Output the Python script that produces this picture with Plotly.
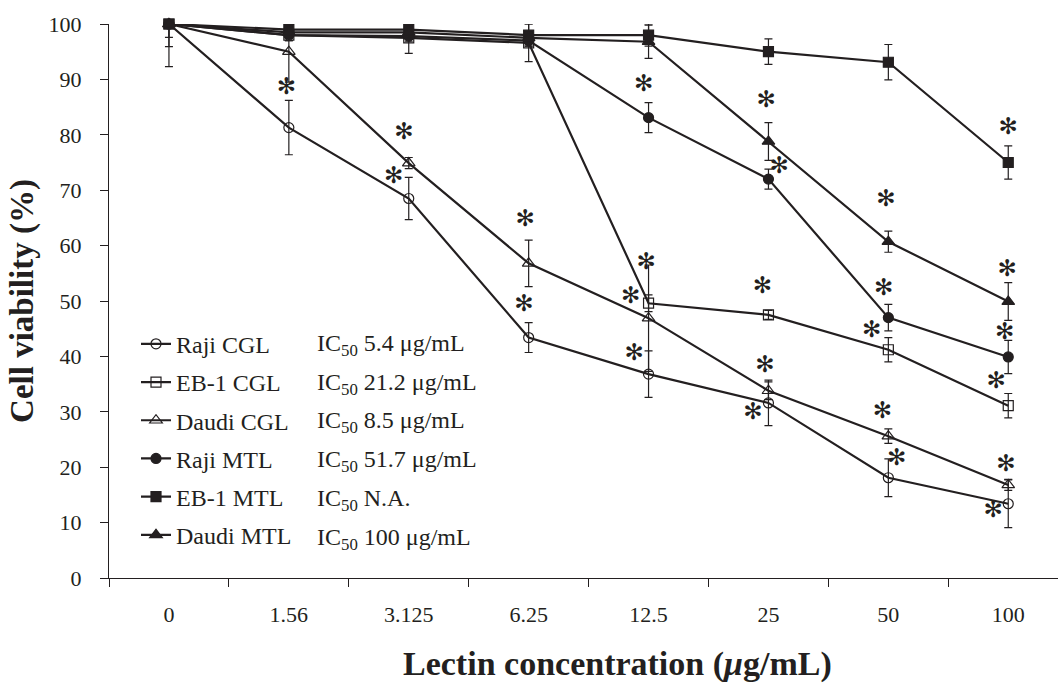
import plotly.graph_objects as go

categories = ["0", "1.56", "3.125", "6.25", "12.5", "25", "50", "100"]

series_names = ["Raji CGL", "EB-1 CGL", "Daudi CGL", "Raji MTL", "EB-1 MTL", "Daudi MTL"]
ic50_labels = ["IC<sub>50</sub> 5.4 μg/mL", "IC<sub>50</sub> 21.2 μg/mL", "IC<sub>50</sub> 8.5 μg/mL",
               "IC<sub>50</sub> 51.7 μg/mL", "IC<sub>50</sub> N.A.", "IC<sub>50</sub> 100 μg/mL"]

raji_cgl = [100, 81.3, 68.5, 43.4, 36.8, 31.6, 18.1, 13.4]
raji_cgl_err = [7.7, 4.9, 3.8, 2.7, 4.2, 4.1, 3.4, 4.3]
eb1_cgl = [100, 98.0, 97.5, 96.6, 49.6, 47.5, 41.2, 31.1]
eb1_cgl_err = [4.1, 1.0, 2.8, 3.4, 1.5, 0.8, 2.2, 2.2]
daudi_cgl = [100, 95.0, 74.9, 56.8, 46.9, 33.8, 25.6, 16.8]
daudi_cgl_err = [2.4, 5.5, 1.0, 4.2, 9.6, 1.6, 1.3, 1.0]
raji_mtl = [100, 98.0, 97.8, 97.0, 83.1, 72.0, 47.0, 39.9]
raji_mtl_err = [0.5, 1.0, 1.0, 1.0, 2.7, 1.8, 2.4, 3.0]
eb1_mtl = [100, 99.0, 99.0, 98.0, 98.0, 95.0, 93.1, 75.0]
eb1_mtl_err = [0.5, 1.0, 1.0, 2.0, 2.0, 2.3, 3.2, 3.0]
daudi_mtl = [100, 98.5, 98.5, 97.5, 96.8, 78.8, 60.7, 49.9]
daudi_mtl_err = [0.5, 1.0, 1.0, 1.0, 3.0, 3.4, 1.9, 3.4]

# significance asterisks: category index, offset, value
ast_cat = [1, 2, 2, 3, 3, 4, 4, 4, 4, 5, 5, 5, 5, 5, 6, 6, 6, 6, 6, 7, 7, 7, 7, 7, 7]
ast_dx = [-0.02, -0.04, -0.125, -0.03, -0.04, -0.04, -0.02, -0.15, -0.12,
          -0.02, 0.09, -0.05, -0.03, -0.13, -0.02, -0.04, -0.14, -0.05, 0.07,
          0.0, -0.01, -0.03, -0.10, -0.02, -0.125]
ast_y = [88.4, 80.3, 72.4, 64.6, 49.3, 89.0, 56.8, 50.7, 40.4,
         86.0, 74.2, 52.5, 38.3, 29.7, 68.1, 52.1, 44.6, 30.0, 21.4,
         81.2, 55.5, 44.2, 35.4, 20.4, 12.1]

x_title = "<b>Lectin concentration (<i>μ</i>g/mL)</b>"
y_title = "<b>Cell viability (%)</b>"

values = [raji_cgl, eb1_cgl, daudi_cgl, raji_mtl, eb1_mtl, daudi_mtl]
errors = [raji_cgl_err, eb1_cgl_err, daudi_cgl_err, raji_mtl_err, eb1_mtl_err, daudi_mtl_err]
symbols = ["circle-open", "square-open", "triangle-up-open", "circle", "square", "triangle-up"]

INK = "#231f20"
FONT = "Liberation Serif"
L, B, PW, PH = 109, 578.5, 949, 554.5  # plot area in pixels


def px_x(p):
    return (p - L) / PW


def px_y(p):
    return (B - p) / PH


fig = go.Figure()
for name, v, e, sym in zip(series_names, values, errors, symbols):
    upper = [min(ei, 100 - vi) for vi, ei in zip(v, e)]
    fig.add_trace(go.Scatter(
        x=categories, y=v, name=name, legendgroup=name,
        mode="lines+markers",
        line=dict(color=INK, width=2.2),
        marker=dict(symbol=sym, size=10 if "triangle" not in sym else 11,
                    color=INK, line=dict(color=INK, width=1.2)),
        error_y=dict(type="data", symmetric=False, array=upper, arrayminus=e,
                     color=INK, thickness=1.2, width=4),
        cliponaxis=False,
    ))

fig.add_trace(go.Scatter(
    x=[c + d for c, d in zip(ast_cat, ast_dx)], y=ast_y,
    mode="text", text=["✻"] * len(ast_y), textposition="middle center",
    textfont=dict(family="DejaVu Sans", size=23, color=INK),
    xaxis="x2", showlegend=False, hoverinfo="skip", cliponaxis=False,
))

# IC50 column of the legend
row_step = 38.9
for i, lab in enumerate(ic50_labels):
    fig.add_annotation(
        xref="paper", yref="paper", x=px_x(315),
        y=px_y(345 + i * row_step),
        xanchor="left", yanchor="middle", showarrow=False,
        text=lab, font=dict(family=FONT, size=24, color=INK),
    )

# x-axis title (placed like the reference, right of plot centre)
fig.add_annotation(
    xref="paper", yref="paper", x=px_x(617), y=px_y(665),
    xanchor="center", yanchor="middle", showarrow=False,
    text=x_title, font=dict(family=FONT, size=34, color=INK),
)

xr = [-0.5, -0.5 + PW / 119.9]
fig.update_layout(
    width=1058, height=684,
    margin=dict(l=L, r=0, t=24, b=684 - B),
    paper_bgcolor="white", plot_bgcolor="white",
    font=dict(family=FONT, size=22, color=INK),
    showlegend=True,
    legend=dict(
        x=px_x(136), y=px_y(322),
        xanchor="left", yanchor="top",
        font=dict(family=FONT, size=24, color=INK),
        tracegroupgap=4, bgcolor="rgba(0,0,0,0)", itemwidth=30,
    ),
    xaxis=dict(
        type="category", range=xr, tickson="boundaries",
        showline=True, linecolor=INK, linewidth=1.3,
        ticks="outside", ticklen=8, tickcolor=INK, tickwidth=1,
        ticklabelstandoff=16,
        showgrid=False, zeroline=False,
        tickfont=dict(family=FONT, size=22, color=INK),
    ),
    xaxis2=dict(overlaying="x", range=xr, visible=False, showgrid=False, zeroline=False),
    yaxis=dict(
        range=[0, 100], tickvals=list(range(0, 101, 10)),
        showline=True, linecolor=INK, linewidth=1.3,
        ticks="outside", ticklen=8, tickcolor=INK, tickwidth=1,
        ticklabelstandoff=14,
        showgrid=False, zeroline=False,
        tickfont=dict(family=FONT, size=22, color=INK),
        title=dict(text=y_title,
                   font=dict(family=FONT, size=33, color=INK), standoff=4),
    ),
)

fig.write_html("out.html", post_script="document.body.style.margin='0px';",
               config={"displayModeBar": False})
